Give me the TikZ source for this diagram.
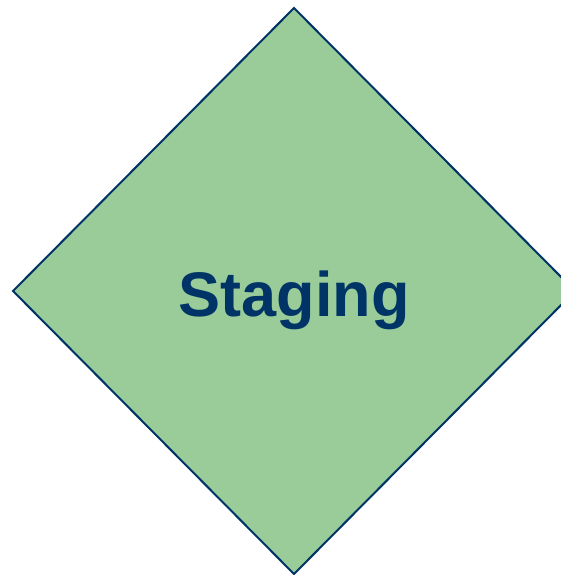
\documentclass[tikz,border=0pt]{standalone}
\usepackage{fontspec}
\setmainfont{Liberation Sans}
\definecolor{navy}{RGB}{0,51,102}
\definecolor{leaf}{RGB}{153,204,153}
\tikzset{diamondshape/.style={fill=leaf,draw=navy,line width=2pt,line join=miter},
  label text/.style={text=navy,font=\fontsize{63}{70}\selectfont\bfseries,inner sep=0pt}}
\begin{document}
\begin{tikzpicture}[x=1pt,y=1pt]
\useasboundingbox (0,0) rectangle (561,-575);
\clip (0,0) rectangle (561,-575);
\draw[diamondshape] (294,-8) -- (575,-291) -- (294,-574) -- (13,-291) -- cycle;
\node[label text,anchor=base] (t) at (294,-316) {Staging};
\end{tikzpicture}
\end{document}
